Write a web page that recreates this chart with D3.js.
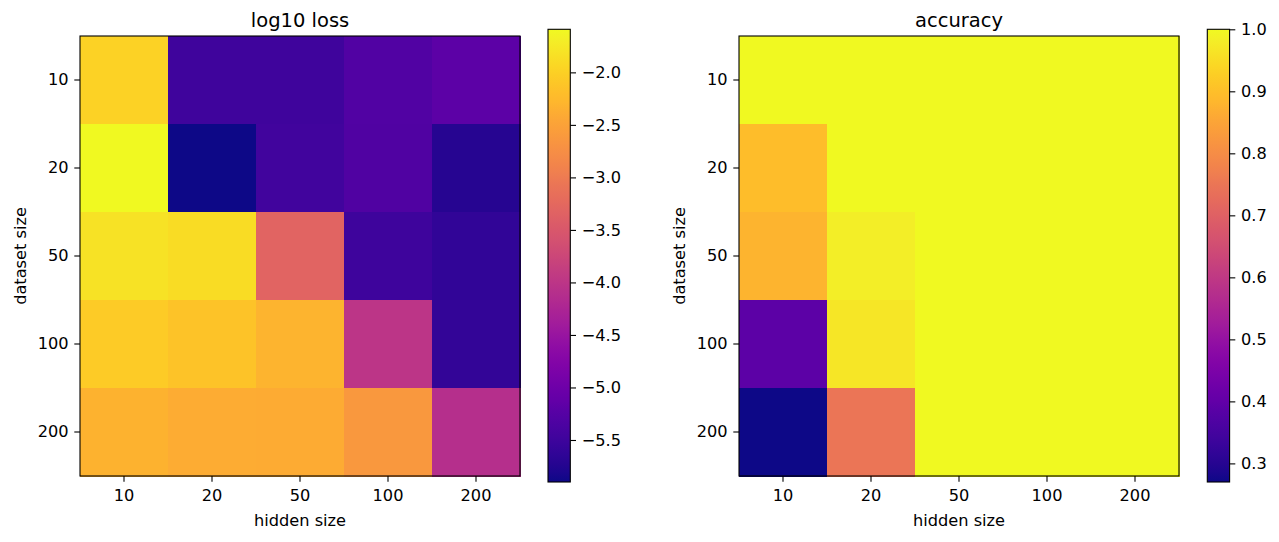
<!DOCTYPE html>
<html>
<head>
<meta charset="utf-8">
<script src="https://cdn.jsdelivr.net/npm/d3@7"></script>
<style>
  html, body { margin: 0; padding: 0; background: #fff; }
  svg text { font-family: "DejaVu Sans", sans-serif; fill: #000; }
</style>
</head>
<body>
<svg id="chart" width="1279" height="542"></svg>
<script>
const hiddenSizes = ["10", "20", "50", "100", "200"];
const datasetSizes = ["10", "20", "50", "100", "200"];

// rows = dataset size, columns = hidden size
const lossRow10  = [-1.98, -5.49, -5.49, -5.30, -5.19];
const lossRow20  = [-1.59, -5.90, -5.47, -5.32, -5.73];
const lossRow50  = [-1.81, -1.89, -3.31, -5.51, -5.62];
const lossRow100 = [-2.06, -2.13, -2.30, -4.00, -5.60];
const lossRow200 = [-2.32, -2.39, -2.41, -2.62, -4.11];

const accRow10  = [1.00, 1.00, 1.00, 1.00, 1.00];
const accRow20  = [0.895, 1.00, 1.00, 1.00, 1.00];
const accRow50  = [0.878, 0.982, 1.00, 1.00, 1.00];
const accRow100 = [0.39, 0.968, 1.00, 1.00, 1.00];
const accRow200 = [0.27, 0.748, 1.00, 1.00, 1.00];

const lossTicks = [-2.0, -2.5, -3.0, -3.5, -4.0, -4.5, -5.0, -5.5];
const accTicks = [0.3, 0.4, 0.5, 0.6, 0.7, 0.8, 0.9, 1.0];

const lossRows = [lossRow10, lossRow20, lossRow50, lossRow100, lossRow200];
const accRows = [accRow10, accRow20, accRow50, accRow100, accRow200];

const svg = d3.select("#chart");
const FS = 16.2;
const TFS = 19.5;
const TICK = 5.7;

function panel(opts) {
  const { left, top, size, rows, title, cbLeft, cbTop, cbBottom, cbWidth, ticks, fmt, gid } = opts;
  const cells = [];
  rows.forEach((r, i) => r.forEach((v, j) => cells.push({ row: datasetSizes[i], col: hiddenSizes[j], v })));
  const ext = d3.extent(cells, d => d.v);
  const color = d3.scaleSequential(d3.interpolatePlasma).domain(ext);

  const x = d3.scaleBand().domain(hiddenSizes).range([left, left + size]);
  const y = d3.scaleBand().domain(datasetSizes).range([top, top + size]);

  const g = svg.append("g");
  g.selectAll("rect.cell").data(cells).join("rect")
    .attr("class", "cell")
    .attr("x", d => x(d.col))
    .attr("y", d => y(d.row))
    .attr("width", x.bandwidth() + 0.5)
    .attr("height", y.bandwidth() + 0.5)
    .attr("fill", d => color(d.v))
    .attr("shape-rendering", "crispEdges");

  g.append("rect").attr("x", left).attr("y", top).attr("width", size).attr("height", size)
    .attr("fill", "none").attr("stroke", "#000").attr("stroke-width", 1.1);

  const xa = g.append("g").attr("transform", `translate(0,${top + size})`)
    .call(d3.axisBottom(x).tickSize(TICK).tickPadding(7.5));
  const ya = g.append("g").attr("transform", `translate(${left},0)`)
    .call(d3.axisLeft(y).tickSize(TICK).tickPadding(5.7));
  [xa, ya].forEach(a => {
    a.attr("font-size", FS).attr("font-family", "DejaVu Sans");
    a.select(".domain").remove();
    a.selectAll("line").attr("stroke", "#000").attr("stroke-width", 1.1);
    a.selectAll("text").attr("font-size", FS).attr("font-family", "DejaVu Sans");
  });

  g.append("text").attr("x", left + size / 2).attr("y", top - 9.3)
    .attr("text-anchor", "middle").attr("font-size", TFS).text(title);
  g.append("text").attr("x", left + size / 2).attr("y", top + size + 49.7)
    .attr("text-anchor", "middle").attr("font-size", FS).text("hidden size");
  g.append("text")
    .attr("transform", `translate(${left - 54},${top + size / 2}) rotate(-90)`)
    .attr("text-anchor", "middle").attr("font-size", FS).text("dataset size");

  // colorbar
  const defs = svg.append("defs");
  const grad = defs.append("linearGradient").attr("id", gid)
    .attr("x1", 0).attr("y1", 1).attr("x2", 0).attr("y2", 0);
  d3.range(0, 1.0001, 0.02).forEach(t => {
    grad.append("stop").attr("offset", t).attr("stop-color", d3.interpolatePlasma(t));
  });
  g.append("rect").attr("x", cbLeft).attr("y", cbTop).attr("width", cbWidth)
    .attr("height", cbBottom - cbTop).attr("fill", `url(#${gid})`);
  g.append("rect").attr("x", cbLeft).attr("y", cbTop).attr("width", cbWidth)
    .attr("height", cbBottom - cbTop).attr("fill", "none")
    .attr("stroke", "#000").attr("stroke-width", 1.1);
  const cy = d3.scaleLinear().domain(ext).range([cbBottom, cbTop]);
  const ca = g.append("g").attr("transform", `translate(${cbLeft + cbWidth},0)`)
    .call(d3.axisRight(cy).tickValues(ticks).tickFormat(d3.format(fmt)).tickSize(TICK).tickPadding(5.7));
  ca.attr("font-size", FS).attr("font-family", "DejaVu Sans");
  ca.select(".domain").remove();
  ca.selectAll("line").attr("stroke", "#000").attr("stroke-width", 1.1);
  ca.selectAll("text").attr("font-size", FS).attr("font-family", "DejaVu Sans");
}

panel({ left: 80, top: 36, size: 440, rows: lossRows, title: "log10 loss",
  cbLeft: 548, cbTop: 29.3, cbBottom: 482, cbWidth: 22.3, ticks: lossTicks, fmt: ".1f", gid: "g1" });
panel({ left: 739, top: 36, size: 440, rows: accRows, title: "accuracy",
  cbLeft: 1207.3, cbTop: 29.3, cbBottom: 482, cbWidth: 22.3, ticks: accTicks, fmt: ".1f", gid: "g2" });
</script>
</body>
</html>
